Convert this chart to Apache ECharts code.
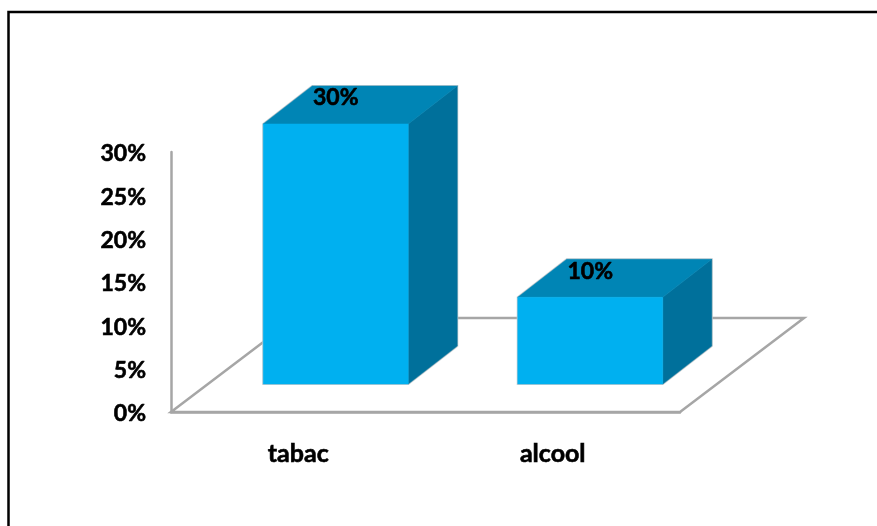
<!DOCTYPE html>
<html>
<head>
<meta charset="utf-8">
<style>html,body{margin:0;padding:0;background:#fff}#chart{width:877px;height:526px}</style>
<script src="https://cdn.jsdelivr.net/npm/echarts@6/dist/echarts.min.js"></script>
</head>
<body>
<div id="chart"></div>
<script>
// Share of respondents per substance
const categories = ['tabac', 'alcool'];
const shares = [30, 10];
const tickLabelSuffix = '%';

// Pseudo-3D geometry, in pixels
const barWidth = 145;
const barShift = [37.5, -28];   // bars stand inside the floor, away from the front edge
const barDepth = [49, -38];
const floorDepth = [124, -94];

const font = {
  fontFamily: 'Lato', fontWeight: 'bold', fontSize: 23, color: '#000',
  textBorderColor: '#000', textBorderWidth: 0.6
};
const categoryFontSize = 25;
const outline = '#c3cbcf';

function poly(points, fill, stroke, lineWidth) {
  return {
    type: 'polygon',
    shape: { points },
    style: { fill, stroke, lineWidth }
  };
}

function renderFloor(params, api) {
  const cs = params.coordSys;
  const y = cs.y + cs.height;
  const x0 = cs.x, x1 = cs.x + cs.width;
  const [dx, dy] = floorDepth;
  return poly([[x0, y], [x1, y], [x1 + dx, y + dy], [x0 + dx, y + dy]], '#fff', '#a6a6a6', 2.5);
}

function renderBar(params, api) {
  const top = api.coord([api.value(0), api.value(1)]);
  const base = api.coord([api.value(0), 0]);
  const xl = top[0] + barShift[0] - barWidth / 2;
  const xr = xl + barWidth;
  const yt = top[1] + barShift[1];
  const yb = base[1] + barShift[1];
  const [dx, dy] = barDepth;
  const silhouette = [[xl, yt], [xl + dx, yt + dy], [xr + dx, yt + dy], [xr + dx, yb + dy], [xr, yb], [xl, yb]];
  return {
    type: 'group',
    children: [
      poly(silhouette, outline, outline, 2),
      poly([[xr, yt], [xr + dx, yt + dy], [xr + dx, yb + dy], [xr, yb]], '#00709b', '#00709b', 0.5),
      poly([[xl, yt], [xl + dx, yt + dy], [xr + dx, yt + dy], [xr, yt]], '#0085b5', '#0085b5', 0.5),
      poly([[xl, yt], [xr, yt], [xr, yb], [xl, yb]], '#00b0f0', '#00b0f0', 0.5),
      {
        type: 'text',
        x: (xl + xr) / 2,
        y: yt - 26,
        style: {
          text: api.value(1) + tickLabelSuffix,
          fill: font.color,
          stroke: font.textBorderColor,
          lineWidth: font.textBorderWidth,
          font: `${font.fontWeight} ${font.fontSize}px ${font.fontFamily}`,
          textAlign: 'center',
          textVerticalAlign: 'middle'
        }
      }
    ]
  };
}

const chart = echarts.init(document.getElementById('chart'), null, { renderer: 'canvas' });
chart.setOption({
  animation: false,
  backgroundColor: '#fff',
  grid: { left: 171, top: 152, width: 509, height: 260 },
  graphic: [{
    type: 'polyline',
    shape: { points: [[8.5, 526], [8.5, 12], [877, 12]] },
    style: { stroke: '#000', lineWidth: 2.5, fill: null }
  }],
  xAxis: {
    type: 'category',
    data: categories,
    axisTick: { show: false },
    axisLine: { lineStyle: { color: '#a6a6a6', width: 2.5 } },
    axisLabel: { ...font, fontSize: categoryFontSize, margin: 29 }
  },
  yAxis: {
    type: 'value',
    min: 0,
    max: 30,
    interval: 5,
    splitLine: { show: false },
    axisTick: { show: false },
    axisLine: { show: true, lineStyle: { color: '#a6a6a6', width: 2.5 } },
    // A short line box anchored at the tick sits the label just below the tick's centre
    axisLabel: { ...font, margin: 25, verticalAlign: 'top', lineHeight: 4, formatter: v => v + tickLabelSuffix }
  },
  series: [
    { type: 'custom', renderItem: renderFloor, data: [[0, 0]], z: 1, silent: true },
    {
      type: 'custom',
      renderItem: renderBar,
      data: categories.map((c, i) => [i, shares[i]]),
      encode: { x: 0, y: 1 },
      z: 3
    }
  ]
});
</script>
</body>
</html>
